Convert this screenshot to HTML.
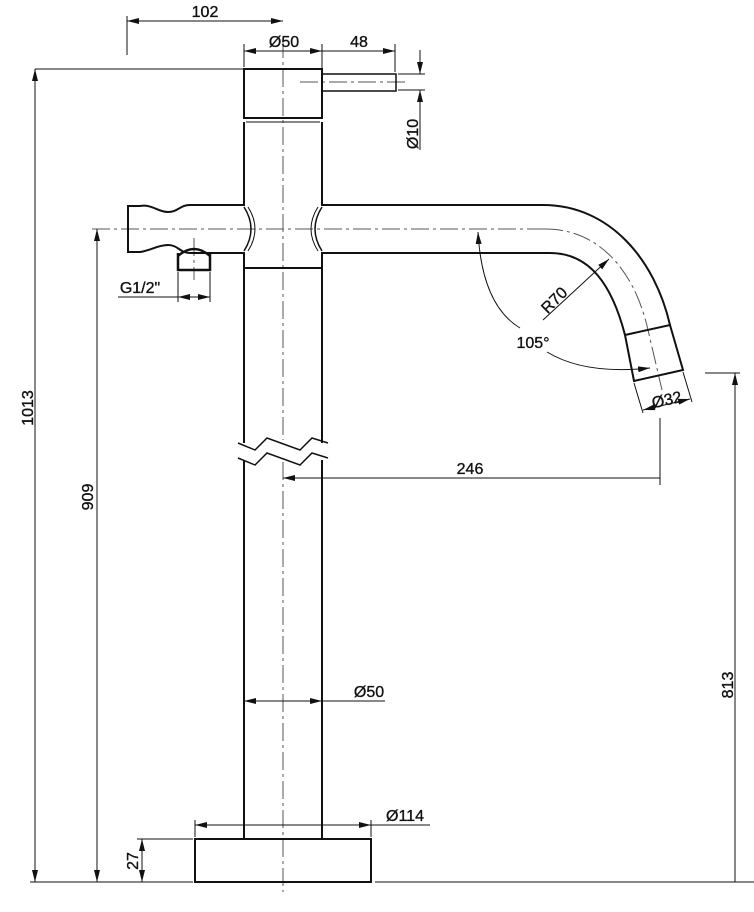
<!DOCTYPE html>
<html><head><style>
html,body{margin:0;padding:0;background:#fff;}
svg{display:block;}
text{font-family:"Liberation Sans",Arial,sans-serif;font-size:16px;fill:#111;stroke:#111;stroke-width:0.35px;}
</style></head><body>
<svg width="754" height="912" viewBox="0 0 754 912" xmlns="http://www.w3.org/2000/svg">
<defs>
<marker id="a" viewBox="0 0 12 6" refX="12" refY="3" markerWidth="12" markerHeight="6" orient="auto-start-reverse" markerUnits="userSpaceOnUse">
<path d="M0,0 L12,3 L0,6 z" fill="#111"/></marker>
</defs>
<g fill="none" stroke="#111">
<g stroke="#555" stroke-width="1" stroke-dasharray="18,4,3,4">
<line x1="283" y1="40" x2="283" y2="440"/>
<line x1="283" y1="462" x2="283" y2="892"/>
<line x1="92" y1="229" x2="545" y2="229"/>
<path d="M545,229 C600,229 635,272 648,330 L662,390"/>
<line x1="300" y1="82" x2="405" y2="82"/>
<line x1="194" y1="238" x2="194" y2="280"/>
</g>
<g stroke-width="2">
<rect x="244" y="69" width="78" height="49"/>
<rect x="322" y="74" width="74" height="17" stroke-width="1.5"/>
<line x1="246" y1="122" x2="320" y2="122" stroke-width="1"/>
<line x1="244" y1="122" x2="244" y2="206"/>
<line x1="322" y1="122" x2="322" y2="206"/>
<line x1="244" y1="252" x2="244" y2="443"/>
<line x1="322" y1="252" x2="322" y2="443"/>
<line x1="244" y1="460" x2="244" y2="839"/>
<line x1="322" y1="460" x2="322" y2="839"/>
<line x1="244" y1="268" x2="322" y2="268"/>
<path d="M244,205 L190,205 C180,205 178,212 168,212 C158,212 152,204 140,206 L128,206 L128,252 L140,252 C152,250 158,245 168,245 C178,245 180,253 190,253 L244,253"/>
<path d="M244,207 Q258,229 244,251" stroke-width="1.5"/>
<path d="M322,207 Q308,229 322,251" stroke-width="1.5"/>
<path d="M248,207 Q262,229 248,251" stroke-width="1"/>
<path d="M318,207 Q304,229 318,251" stroke-width="1"/>
<path d="M178,253 L178,270 L210,270 L210,253 M178,256 Q194,242 210,256" stroke-width="2.5"/>
<path d="M322,205 L543,205 C610,205 655,260 670,325"/>
<path d="M322,253 L550,253 C590,253 612,285 625,335"/>
<path d="M625,335 L670,325 L683,370 L634,381 Z"/>
<rect x="195" y="839" width="176" height="43"/>
</g>
<g stroke-width="1.5">
<path d="M238,443 L255,450 L267,438 L300,450 L312,438 L328,443"/>
<path d="M238,458 L255,465 L267,453 L300,465 L312,453 L328,458"/>
</g>
<g stroke-width="1">
<line x1="35" y1="69" x2="244" y2="69"/>
<line x1="30" y1="882" x2="193" y2="882"/>
<line x1="375" y1="882" x2="754" y2="882"/>
<line x1="127" y1="16" x2="127" y2="55"/>
<line x1="127" y1="21" x2="283" y2="21" marker-start="url(#a)" marker-end="url(#a)"/>
<line x1="244" y1="44" x2="244" y2="67"/>
<line x1="322" y1="44" x2="322" y2="72"/>
<line x1="395" y1="44" x2="395" y2="72"/>
<line x1="244" y1="51" x2="322" y2="51" marker-start="url(#a)" marker-end="url(#a)"/>
<line x1="322" y1="51" x2="395" y2="51" marker-end="url(#a)"/>
<line x1="398" y1="74" x2="425" y2="74"/>
<line x1="398" y1="90" x2="425" y2="90"/>
<line x1="420" y1="50" x2="420" y2="74" marker-end="url(#a)"/>
<line x1="420" y1="150" x2="420" y2="90" marker-end="url(#a)"/>
<line x1="178" y1="272" x2="178" y2="302"/>
<line x1="210" y1="272" x2="210" y2="302"/>
<line x1="118" y1="297" x2="178" y2="297"/>
<line x1="178" y1="297" x2="210" y2="297" marker-start="url(#a)" marker-end="url(#a)"/>
<line x1="35" y1="69" x2="35" y2="882" marker-start="url(#a)" marker-end="url(#a)"/>
<line x1="97" y1="229" x2="97" y2="882" marker-start="url(#a)" marker-end="url(#a)"/>
<path d="M478,232 Q482,305 520,328" marker-start="url(#a)"/>
<path d="M547,352 Q585,375 650,368" marker-end="url(#a)"/>
<line x1="543" y1="320" x2="609" y2="259" marker-end="url(#a)"/>
<line x1="634" y1="383" x2="643" y2="413"/>
<line x1="683" y1="372" x2="692" y2="402"/>
<line x1="643" y1="410" x2="690" y2="399" marker-start="url(#a)" marker-end="url(#a)"/>
<line x1="660" y1="418" x2="660" y2="485"/>
<line x1="660" y1="478" x2="283" y2="478" marker-end="url(#a)"/>
<line x1="705" y1="373" x2="740" y2="373"/>
<line x1="735" y1="882" x2="735" y2="373" marker-end="url(#a)"/>
<line x1="385" y1="701" x2="322" y2="701"/>
<line x1="244" y1="701" x2="322" y2="701" marker-start="url(#a)" marker-end="url(#a)"/>
<line x1="195" y1="820" x2="195" y2="837"/>
<line x1="371" y1="820" x2="371" y2="837"/>
<line x1="371" y1="825" x2="430" y2="825"/>
<line x1="195" y1="825" x2="371" y2="825" marker-start="url(#a)" marker-end="url(#a)"/>
<line x1="137" y1="839" x2="193" y2="839"/>
<line x1="142" y1="839" x2="142" y2="882" marker-start="url(#a)" marker-end="url(#a)"/>
</g>
</g>
<text x="205" y="17" text-anchor="middle">102</text>
<text x="284" y="47" text-anchor="middle">Ø50</text>
<text x="359" y="47" text-anchor="middle">48</text>
<text transform="translate(418,134) rotate(-90)" text-anchor="middle">Ø10</text>
<text x="140" y="293" text-anchor="middle">G1/2"</text>
<text transform="translate(558,304) rotate(-45)" text-anchor="middle">R70</text>
<text x="533" y="348" text-anchor="middle">105°</text>
<text transform="translate(668,405) rotate(-13)" text-anchor="middle">Ø32</text>
<text x="470" y="474" text-anchor="middle">246</text>
<text transform="translate(33,408) rotate(-90)" text-anchor="middle">1013</text>
<text transform="translate(93,497) rotate(-90)" text-anchor="middle">909</text>
<text transform="translate(733,685) rotate(-90)" text-anchor="middle">813</text>
<text x="369" y="697" text-anchor="middle">Ø50</text>
<text x="405" y="821" text-anchor="middle">Ø114</text>
<text transform="translate(138,861) rotate(-90)" text-anchor="middle">27</text>
</svg>
</body></html>
